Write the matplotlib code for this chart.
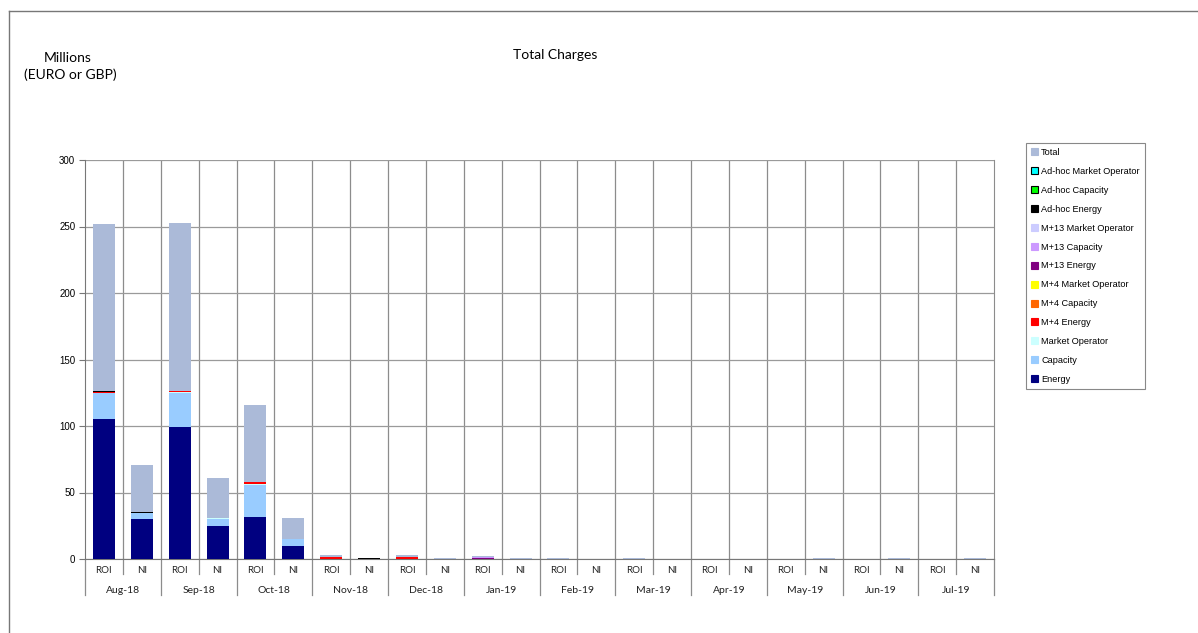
import matplotlib.pyplot as plt
from matplotlib.lines import Line2D
from matplotlib.patches import Patch
import numpy as np

months = ['Aug-18', 'Sep-18', 'Oct-18', 'Nov-18', 'Dec-18', 'Jan-19',
          'Feb-19', 'Mar-19', 'Apr-19', 'May-19', 'Jun-19', 'Jul-19']
regions = ['ROI', 'NI']

# values per bar: ROI, NI for each month (millions)
energy        = [105.5, 30.0, 99.2, 24.5, 31.5, 9.5, 0, 0, 0, 0, 0, 0,
                 0, 0, 0, 0, 0, 0, 0, 0, 0, 0, 0, 0]
capacity      = [19.0, 4.6, 25.8, 5.8, 24.5, 5.3, 0, 0, 0, 0, 0, 0,
                 0, 0, 0, 0, 0, 0, 0, 0, 0, 0, 0, 0]
market_op     = [0.5, 0.2, 0.5, 0.3, 0.5, 0.2, 0, 0, 0, 0, 0, 0,
                 0, 0, 0, 0, 0, 0, 0, 0, 0, 0, 0, 0]
m4_energy     = [0.3, 0, 0.8, 0, 1.3, 0.3, 1.3, 0.2, 1.2, 0.3, 0.2, 0,
                 0, 0, 0, 0, 0, 0, 0, 0, 0, 0, 0, 0]
m4_capacity   = [0, 0, 0, 0, 0, 0, 0.3, 0, 0.2, 0, 0, 0,
                 0, 0, 0, 0, 0, 0, 0, 0, 0, 0, 0, 0]
m4_mo         = [0] * 24
m13_energy    = [0, 0, 0, 0, 0, 0, 0, 0, 0, 0, 0.8, 0.3,
                 0.3, 0.05, 0.3, 0.05, 0.05, 0.05, 0.05, 0, 0.05, 0.3, 0.05, 0]
m13_capacity  = [0, 0, 0, 0, 0, 0, 0, 0, 0, 0, 0.2, 0,
                 0, 0, 0, 0, 0, 0, 0, 0.2, 0, 0, 0, 0.2]
m13_mo        = [0] * 24
adhoc_energy  = [0.7, 0.5, 0, 0, 0, 0, 0, 0.3, 0, 0, 0, 0,
                 0, 0, 0, 0, 0, 0, 0, 0, 0, 0, 0, 0]
adhoc_capacity = [0] * 24
adhoc_mo      = [0] * 24
total         = [126.0, 35.3, 126.3, 30.6, 57.8, 15.3, 1.6, 0.5, 1.4, 0.3, 1.2, 0.3,
                 0.3, 0.05, 0.3, 0.05, 0.05, 0.05, 0.05, 0.2, 0.05, 0.3, 0.05, 0.2]

series = [
    ('Energy', energy, '#000080', 'none'),
    ('Capacity', capacity, '#99ccff', 'none'),
    ('Market Operator', market_op, '#ccffff', 'none'),
    ('M+4 Energy', m4_energy, '#ff0000', 'none'),
    ('M+4 Capacity', m4_capacity, '#ff6600', 'none'),
    ('M+4 Market Operator', m4_mo, '#ffff00', 'none'),
    ('M+13 Energy', m13_energy, '#800080', 'none'),
    ('M+13 Capacity', m13_capacity, '#cc99ff', 'none'),
    ('M+13 Market Operator', m13_mo, '#ccccff', 'none'),
    ('Ad-hoc Energy', adhoc_energy, '#000000', 'none'),
    ('Ad-hoc Capacity', adhoc_capacity, '#00ff00', 'black'),
    ('Ad-hoc Market Operator', adhoc_mo, '#00ffff', 'black'),
    ('Total', total, '#abbad8', 'none'),
]

fig = plt.figure(figsize=(11.98, 6.33), dpi=100)
ax = fig.add_axes([85 / 1198, 1 - 559 / 633, (994 - 85) / 1198, (559 - 160) / 633])

x = np.arange(24) + 0.5
bottom = np.zeros(24)
handles = []
for name, vals, col, ec in series:
    v = np.array(vals, dtype=float)
    ax.bar(x, v, 0.58, bottom=bottom, color=col, linewidth=0, zorder=3)
    bottom += v
    handles.append(Patch(facecolor=col, edgecolor=ec if ec != 'none' else col, linewidth=0.8))

ax.set_xlim(0, 24)
ax.set_ylim(0, 300)
ax.set_yticks(range(0, 301, 50))
ax.yaxis.grid(True, color='#9a9a9a', linewidth=0.9, zorder=0)
for k in range(1, 24):
    ax.axvline(k, color='#8c8c8c', linewidth=0.9, zorder=1)
ax.set_xticks([])
ax.spines['top'].set_visible(False)
ax.spines['left'].set_color('#777777')
ax.spines['right'].set_color('#8c8c8c')
ax.spines['bottom'].set_color('#777777')
ax.tick_params(axis='y', labelsize=7, length=4, color='#777777', pad=3)
for lab in ax.get_yticklabels():
    lab.set_fontfamily('Liberation Sans')

trans = ax.get_xaxis_transform()
for k in range(25):
    depth = -0.09 if k % 2 == 0 else -0.037
    ax.plot([k, k], [0, depth], transform=trans, clip_on=False,
            color='#8c8c8c', linewidth=0.9)
for i in range(24):
    ax.text(i + 0.5, -0.028, regions[i % 2], transform=trans, ha='center', va='center',
            fontsize=7, family='Lato', color='#222222')
for m, name in enumerate(months):
    ax.text(2 * m + 1, -0.078, name, transform=trans, ha='center', va='center',
            fontsize=7.5, family='Lato', color='#222222')

fig.text(555 / 1198, 1 - 55 / 633, 'Total Charges', ha='center', va='center',
         fontsize=10, family='Lato')
fig.text(68 / 1198, 1 - 58 / 633, 'Millions', ha='center', va='center',
         fontsize=10, family='Lato')
fig.text(70 / 1198, 1 - 75 / 633, '(EURO or GBP)', ha='center', va='center',
         fontsize=10, family='Lato')

labels = [s[0] for s in series]
leg = fig.legend(handles[::-1], labels[::-1], loc='upper left',
                 bbox_to_anchor=(1026 / 1198, 1 - 143 / 633),
                 prop={'family': 'Liberation Sans', 'size': 6.6},
                 handlelength=0.8, handleheight=0.8, handletextpad=0.3,
                 labelspacing=1.08, borderpad=0.55, borderaxespad=0, fancybox=False,
                 edgecolor='#888888', framealpha=1)
leg.get_frame().set_linewidth(0.8)

fig.add_artist(Line2D([9 / 1198, 1], [1 - 11 / 633, 1 - 11 / 633],
                      color='#777777', linewidth=1))
fig.add_artist(Line2D([9 / 1198, 9 / 1198], [0, 1 - 11 / 633],
                      color='#777777', linewidth=1))

fig.savefig('out.png', dpi=100)
